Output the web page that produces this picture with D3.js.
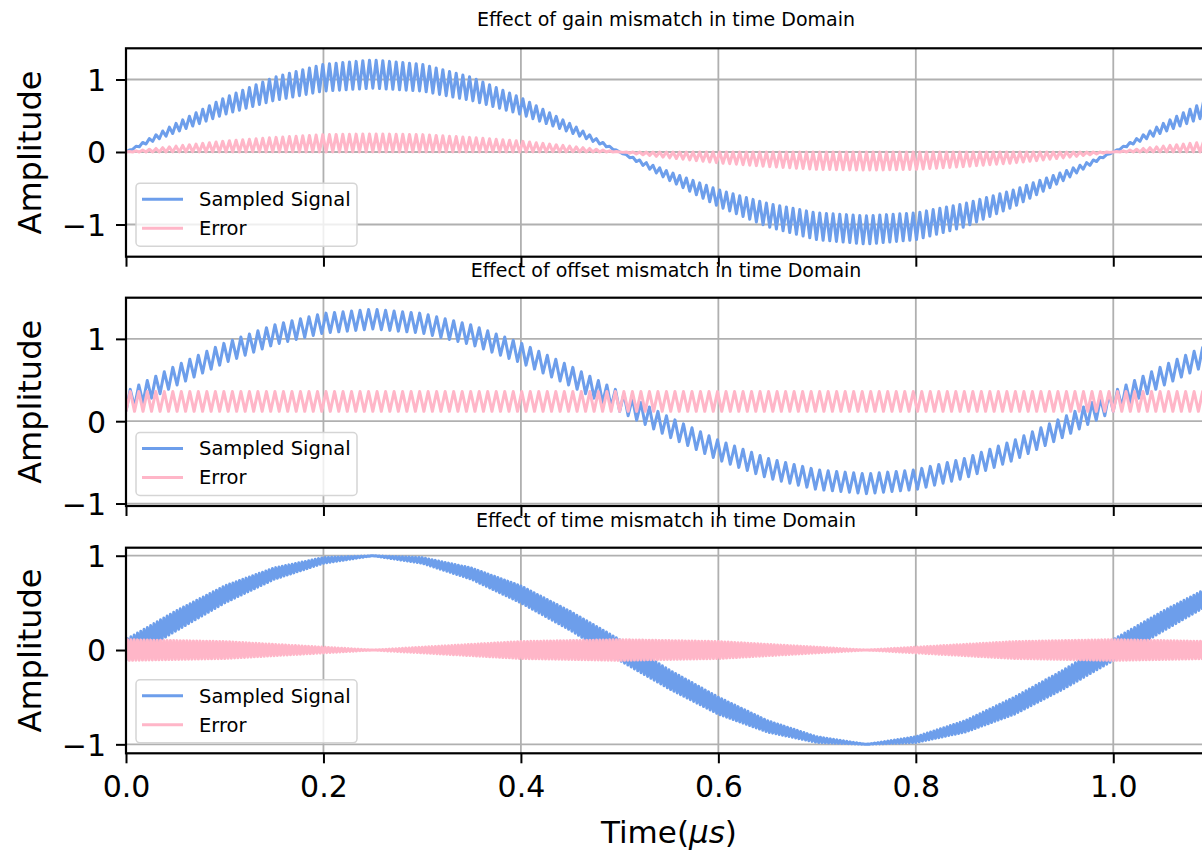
<!DOCTYPE html>
<html>
<head>
<meta charset="utf-8">
<script src="https://cdn.jsdelivr.net/npm/d3@7"></script>
<style>
  html, body { margin: 0; padding: 0; background: #fff; }
  svg { display: block; }
  text { font-family: "DejaVu Sans", sans-serif; fill: #000; }
</style>
</head>
<body>
<svg id="chart" width="1202" height="852"></svg>
<script>
// ---------- data ----------
const timeKnots = [0, 0.05, 0.1, 0.15, 0.2, 0.25, 0.3, 0.35, 0.4, 0.45, 0.5, 0.55, 0.6, 0.65, 0.7, 0.75, 0.8, 0.85, 0.9, 0.95, 1.0, 1.05, 1.1];

// Gain mismatch: the two interleaved channels (upper / lower extreme of the zigzag)
const gainSignalHigh = [0, 0.39, 0.75, 1.03, 1.21, 1.27, 1.21, 1.03, 0.75, 0.39, 0, -0.39, -0.75, -1.03, -1.21, -1.27, -1.21, -1.03, -0.75, -0.39, 0, 0.39, 0.75];
const gainSignalLow  = [0, 0.27, 0.52, 0.71, 0.84, 0.88, 0.84, 0.71, 0.52, 0.27, 0, -0.27, -0.52, -0.71, -0.84, -0.88, -0.84, -0.71, -0.52, -0.27, 0, 0.27, 0.52];
const gainErrorHigh  = [0, 0.08, 0.15, 0.20, 0.24, 0.25, 0.24, 0.20, 0.15, 0.08, 0, -0.08, -0.15, -0.20, -0.24, -0.25, -0.24, -0.20, -0.15, -0.08, 0, 0.08, 0.15];
const gainErrorLow   = [0, 0, 0, 0, 0, 0, 0, 0, 0, 0, 0, 0, 0, 0, 0, 0, 0, 0, 0, 0, 0, 0, 0];

// Offset mismatch
const offsetSignalHigh = [0.36, 0.67, 0.95, 1.17, 1.31, 1.36, 1.31, 1.17, 0.95, 0.67, 0.36, 0.05, -0.23, -0.45, -0.59, -0.64, -0.59, -0.45, -0.23, 0.05, 0.36, 0.67, 0.95];
const offsetSignalLow  = [0.12, 0.43, 0.71, 0.93, 1.07, 1.12, 1.07, 0.93, 0.71, 0.43, 0.12, -0.19, -0.47, -0.69, -0.83, -0.88, -0.83, -0.69, -0.47, -0.19, 0.12, 0.43, 0.71];
const offsetErrorHigh  = [0.36, 0.36, 0.36, 0.36, 0.36, 0.36, 0.36, 0.36, 0.36, 0.36, 0.36, 0.36, 0.36, 0.36, 0.36, 0.36, 0.36, 0.36, 0.36, 0.36, 0.36, 0.36, 0.36];
const offsetErrorLow   = [0.12, 0.12, 0.12, 0.12, 0.12, 0.12, 0.12, 0.12, 0.12, 0.12, 0.12, 0.12, 0.12, 0.12, 0.12, 0.12, 0.12, 0.12, 0.12, 0.12, 0.12, 0.12, 0.12];

// Time (skew) mismatch
const timeSignalHigh = [0.11, 0.41, 0.68, 0.87, 0.98, 1.0, 0.92, 0.75, 0.50, 0.21, -0.11, -0.41, -0.68, -0.87, -0.98, -1.0, -0.92, -0.75, -0.50, -0.21, 0.11, 0.41, 0.68];
const timeSignalLow  = [-0.11, 0.20, 0.50, 0.75, 0.92, 1.0, 0.98, 0.87, 0.68, 0.41, 0.11, -0.21, -0.50, -0.75, -0.92, -1.0, -0.98, -0.87, -0.68, -0.41, -0.11, 0.20, 0.50];
const timeErrorHigh  = [0.11, 0.10, 0.09, 0.06, 0.03, 0, -0.03, -0.06, -0.09, -0.10, -0.11, -0.10, -0.09, -0.06, -0.03, 0, 0.03, 0.06, 0.09, 0.10, 0.11, 0.10, 0.09];
const timeErrorLow   = [-0.11, -0.10, -0.09, -0.06, -0.03, 0, 0.03, 0.06, 0.09, 0.10, 0.11, 0.10, 0.09, 0.06, 0.03, 0, -0.03, -0.06, -0.09, -0.10, -0.11, -0.10, -0.09];

// apparent interleaved sample rate in each panel (samples per microsecond)
const sampleRates = [296, 232, 600];

const panelTitles = ["Effect of gain mismatch in time Domain", "Effect of offset mismatch in time Domain", "Effect of time mismatch in time Domain"];
const seriesNames = ["Sampled Signal", "Error"];
const xTickValues = [0, 0.2, 0.4, 0.6, 0.8, 1.0];
const yTickValues = [-1, 0, 1];
const xDomain = [0, 1.1];
const yDomains = [[-1.444, 1.43], [-1.03, 1.50], [-1.095, 1.085]];

// ---------- layout ----------
const left = 126, right = 1212;
const panelBoxes = [
  { top: 48.3, bottom: 256.7, titleY: 26 },
  { top: 297.7, bottom: 506, titleY: 277 },
  { top: 547.7, bottom: 753.3, titleY: 527 }
];
const blue = "#6d9eeb";
const pink = "#ffb6c8";
const gridColor = "#b0b0b0";

const svg = d3.select("#chart");
const x = d3.scaleLinear().domain(xDomain).range([left, right]);

const panels = [
  { sig: [gainSignalHigh, gainSignalLow], err: [gainErrorHigh, gainErrorLow] },
  { sig: [offsetSignalHigh, offsetSignalLow], err: [offsetErrorHigh, offsetErrorLow] },
  { sig: [timeSignalHigh, timeSignalLow], err: [timeErrorHigh, timeErrorLow] }
];

function zigzag(pair, rate) {
  const hi = d3.scaleLinear().domain(timeKnots).range(pair[0]);
  const lo = d3.scaleLinear().domain(timeKnots).range(pair[1]);
  const n = Math.floor(xDomain[1] * rate);
  const pts = [];
  for (let k = 0; k <= n; k++) {
    const t = k / rate;
    pts.push([t, k % 2 === 0 ? lo(t) : hi(t)]);
  }
  return pts;
}

panels.forEach((p, i) => {
  const box = panelBoxes[i];
  const y = d3.scaleLinear().domain(yDomains[i]).range([box.bottom, box.top]);
  const g = svg.append("g");

  const clipId = "clip" + i;
  svg.append("clipPath").attr("id", clipId).append("rect")
    .attr("x", left).attr("y", box.top).attr("width", right - left).attr("height", box.bottom - box.top);

  // grid
  const grid = g.append("g").attr("clip-path", `url(#${clipId})`);
  grid.selectAll("line.gx").data(xTickValues).join("line")
    .attr("x1", d => x(d)).attr("x2", d => x(d)).attr("y1", box.top).attr("y2", box.bottom)
    .attr("stroke", gridColor).attr("stroke-width", 1.8);
  grid.selectAll("line.gy").data(yTickValues).join("line")
    .attr("x1", left).attr("x2", right).attr("y1", d => y(d)).attr("y2", d => y(d))
    .attr("stroke", gridColor).attr("stroke-width", 1.8);

  // data
  const line = d3.line().x(d => x(d[0])).y(d => y(d[1]));
  const data = g.append("g").attr("clip-path", `url(#${clipId})`);
  data.append("path").datum(zigzag(p.sig, sampleRates[i]))
    .attr("d", line).attr("fill", "none").attr("stroke", blue).attr("stroke-width", 3).attr("stroke-linejoin", "round");
  data.append("path").datum(zigzag(p.err, sampleRates[i]))
    .attr("d", line).attr("fill", "none").attr("stroke", pink).attr("stroke-width", 3).attr("stroke-linejoin", "round");

  // axes
  const yAxis = d3.axisLeft(y).tickValues(yTickValues).tickSize(10).tickPadding(10)
    .tickFormat(d => d < 0 ? "\u2212" + Math.abs(d) : String(d));
  const ya = g.append("g").attr("transform", `translate(${left},0)`).call(yAxis);
  ya.select(".domain").remove();
  ya.selectAll(".tick line").attr("stroke", "#000").attr("stroke-width", 2);
  ya.selectAll(".tick text").style("font-size", "30px").attr("dy", "0.36em");

  const xAxis = d3.axisBottom(x).tickValues(xTickValues).tickSize(10).tickPadding(12)
    .tickFormat(i === 2 ? d3.format(".1f") : () => "");
  const xa = g.append("g").attr("transform", `translate(0,${box.bottom})`).call(xAxis);
  xa.select(".domain").remove();
  xa.selectAll(".tick line").attr("stroke", "#000").attr("stroke-width", 2);
  xa.selectAll(".tick text").style("font-size", "30px");

  // spines
  g.append("rect").attr("x", left).attr("y", box.top).attr("width", right - left).attr("height", box.bottom - box.top)
    .attr("fill", "none").attr("stroke", "#000").attr("stroke-width", 2.2);

  // title
  g.append("text").attr("x", (left + right) / 2 - 3).attr("y", box.titleY)
    .attr("text-anchor", "middle").style("font-size", "19px").text(panelTitles[i]);

  // y label
  g.append("text").attr("transform", `translate(41,${(box.top + box.bottom) / 2}) rotate(-90)`)
    .attr("text-anchor", "middle").style("font-size", "32px").text("Amplitude");

  // legend
  const lg = g.append("g").attr("transform", `translate(136,${box.bottom - 73.5})`);
  lg.append("rect").attr("width", 221).attr("height", 63).attr("rx", 4)
    .attr("fill", "#fff").attr("fill-opacity", 0.8).attr("stroke", "#d5d5d5").attr("stroke-width", 1.5);
  [blue, pink].forEach((c, j) => {
    const yy = 16 + j * 29;
    lg.append("line").attr("x1", 6).attr("x2", 47).attr("y1", yy).attr("y2", yy)
      .attr("stroke", c).attr("stroke-width", 3);
    lg.append("text").attr("x", 63).attr("y", yy).attr("dy", "0.35em")
      .style("font-size", "19.5px").text(seriesNames[j]);
  });
});

// x label
const xl = svg.append("text").attr("x", 669).attr("y", 843).attr("text-anchor", "middle").style("font-size", "31px");
xl.append("tspan").text("Time(");
xl.append("tspan").attr("font-style", "italic").text("\u03bcs");
xl.append("tspan").text(")");
</script>
</body>
</html>
